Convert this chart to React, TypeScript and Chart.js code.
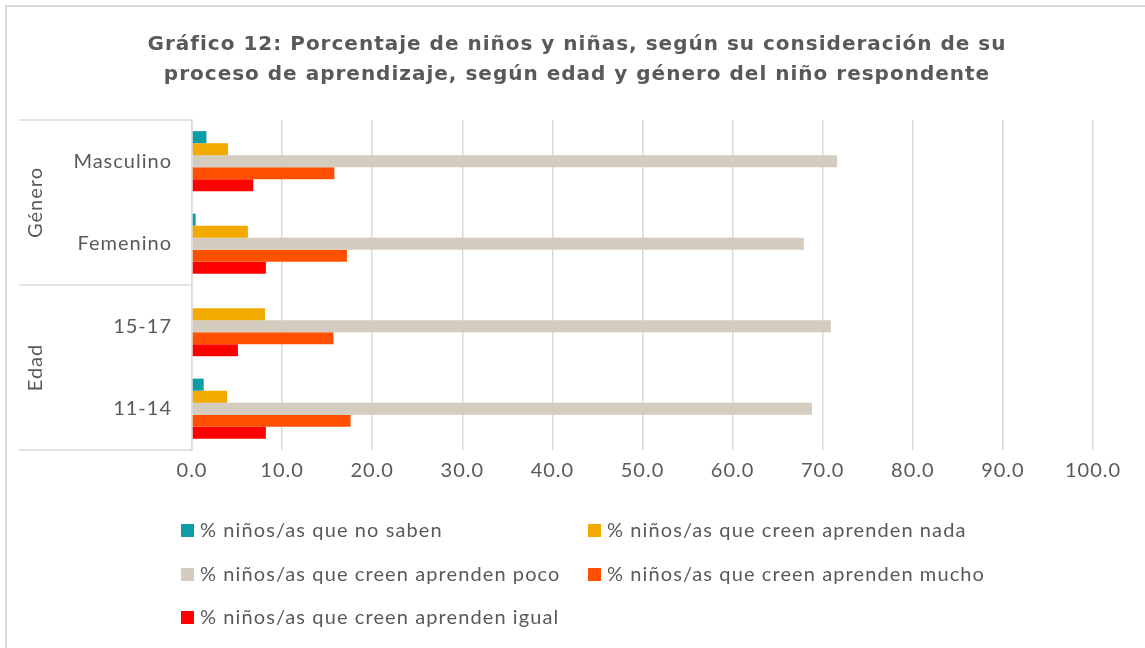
import React, { useEffect, useRef } from "react";
import { Chart, registerables } from "chart.js";

Chart.register(...registerables);

const categories = ["Masculino", "Femenino", "15-17", "11-14"];
const groupLabels = ["Género", "Edad"];
const seriesNames = [
  "% niños/as que no saben",
  "% niños/as que creen aprenden nada",
  "% niños/as que creen aprenden poco",
  "% niños/as que creen aprenden mucho",
  "% niños/as que creen aprenden igual",
];
const noSaben = [1.6, 0.4, 0, 1.3];
const nada = [4.0, 6.2, 8.1, 3.9];
const poco = [71.6, 67.9, 70.9, 68.8];
const mucho = [15.8, 17.2, 15.7, 17.6];
const igual = [6.8, 8.2, 5.1, 8.2];
const seriesColors = ["#0E9CA6", "#F2A900", "#D3CCBF", "#FF4F00", "#FF0000"];

const TEXT = "#595959";
const LINE = "#D9D9D9";
const FONT = "Lato, 'Open Sans', sans-serif";
const TITLE_FONT = "'DejaVu Sans', Lato, sans-serif";

const decorPlugin = {
  id: "decor",
  beforeDraw(chart: any) {
    chart.ctx.letterSpacing = "1px";
  },
  afterDraw(chart: any) {
    const ctx = chart.ctx;
    const ca = chart.chartArea;
    const y = chart.scales.y;
    ctx.save();
    ctx.strokeStyle = LINE;
    ctx.lineWidth = 1.5;
    const mid = (y.getPixelForValue(1) + y.getPixelForValue(2)) / 2;
    const lx = 19;
    [ca.top, mid, ca.bottom].forEach((yy) => {
      ctx.beginPath();
      ctx.moveTo(lx, yy);
      ctx.lineTo(ca.left, yy);
      ctx.stroke();
    });
    ctx.fillStyle = TEXT;
    ctx.font = `20px ${FONT}`;
    ctx.letterSpacing = "1px";
    ctx.textAlign = "center";
    ctx.textBaseline = "middle";
    const centers = [(ca.top + mid) / 2, (mid + ca.bottom) / 2];
    groupLabels.forEach((g, i) => {
      ctx.save();
      ctx.translate(36, centers[i]);
      ctx.rotate(-Math.PI / 2);
      ctx.fillText(g, 0, 0);
      ctx.restore();
    });
    const cols = [181, 588];
    const rows = [530, 574, 617];
    ctx.font = `20px ${FONT}`;
    ctx.letterSpacing = "1.1px";
    ctx.textAlign = "left";
    chart.data.datasets.forEach((ds: any, i: number) => {
      const cx = cols[i % 2];
      const cy = rows[Math.floor(i / 2)];
      ctx.fillStyle = ds.backgroundColor;
      ctx.fillRect(cx, cy - 6, 13, 13);
      ctx.fillStyle = TEXT;
      ctx.fillText(ds.label, cx + 19, cy + 1);
    });
    ctx.restore();
    ctx.letterSpacing = "0px";
  },
};

export default function App() {
  const ref = useRef<HTMLCanvasElement>(null);
  useEffect(() => {
    if (!ref.current) return;
    const allSeries = [noSaben, nada, poco, mucho, igual];
    const chart = new Chart(ref.current, {
      type: "bar",
      data: {
        labels: categories,
        datasets: allSeries.map((d, i) => ({
          label: seriesNames[i],
          data: d,
          backgroundColor: seriesColors[i],
          borderWidth: 0,
          categoryPercentage: 0.73,
          barPercentage: 1.0,
        })),
      },
      options: {
        indexAxis: "y",
        responsive: false,
        animation: false,
        layout: { padding: { left: 61, right: 52, top: 0, bottom: 160 } },
        plugins: {
          legend: { display: false },
          tooltip: { enabled: false },
          title: {
            display: true,
            text: [
              "Gráfico 12: Porcentaje de niños y niñas, según su consideración de su",
              "proceso de aprendizaje, según edad y género del niño respondente",
            ],
            color: TEXT,
            font: { family: TITLE_FONT, size: 20, weight: "bold", lineHeight: 1.5 },
            padding: { top: 30, bottom: 30 },
          },
        },
        scales: {
          x: {
            min: 0,
            max: 100,
            ticks: {
              stepSize: 10,
              color: TEXT,
              font: { family: FONT, size: 20 },
              padding: 9,
              callback: (v: any) => Number(v).toFixed(1),
            },
            grid: { color: LINE, lineWidth: 1.5, drawTicks: false },
            border: { display: false },
            afterFit: (s: any) => {
              s.height = 38;
            },
          },
          y: {
            ticks: {
              color: TEXT,
              font: { family: FONT, size: 20 },
              padding: 12,
            },
            grid: { display: false },
            border: { display: true, color: LINE, width: 1.5 },
            afterFit: (s: any) => {
              s.width = 131;
            },
          },
        },
      },
      plugins: [decorPlugin],
    });
    return () => chart.destroy();
  }, []);
  return (
    <div style={{ position: "fixed", left: 0, top: 0, width: 1145, height: 648, background: "#fff" }}>
      <div
        style={{
          position: "absolute",
          left: 5,
          top: 5,
          right: -10,
          bottom: -10,
          borderTop: "2px solid #D9D9D9",
          borderLeft: "2px solid #D9D9D9",
        }}
      />
      <canvas ref={ref} width={1145} height={648} style={{ position: "absolute", left: 0, top: 0 }} />
    </div>
  );
}
